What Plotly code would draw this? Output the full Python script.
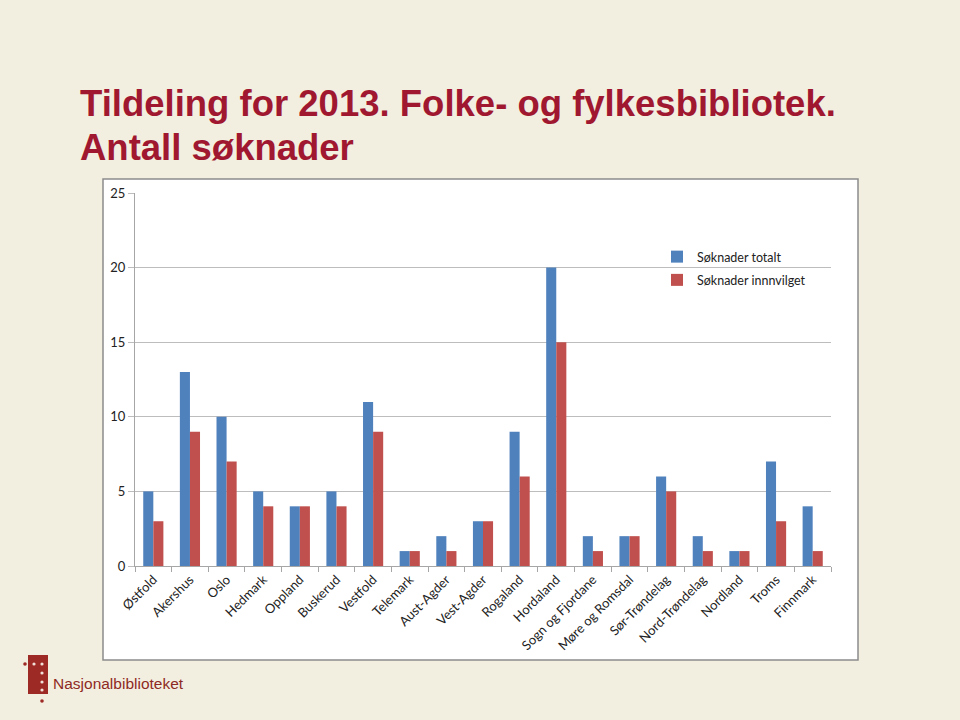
import plotly.graph_objects as go

categories = ["Østfold", "Akershus", "Oslo", "Hedmark", "Oppland", "Buskerud", "Vestfold",
              "Telemark", "Aust-Agder", "Vest-Agder", "Rogaland", "Hordaland",
              "Sogn og Fjordane", "Møre og Romsdal", "Sør-Trøndelag", "Nord-Trøndelag",
              "Nordland", "Troms", "Finnmark"]
soknader_totalt = [5, 13, 10, 5, 4, 5, 11, 1, 2, 3, 9, 20, 2, 2, 6, 2, 1, 7, 4]
soknader_innvilget = [3, 9, 7, 4, 4, 4, 9, 1, 1, 3, 6, 15, 1, 2, 5, 1, 1, 3, 1]
y_ticks = [0, 5, 10, 15, 20, 25]

W, H = 960, 720
def px(x): return x / W
def py(y): return 1 - y / H

BLUE = "#4F81BD"
RED = "#C0504D"
TITLE_RED = "#A01830"
TXT_FONT = "Lato, 'Open Sans', sans-serif"
TITLE_FONT = "'Liberation Sans', Arial, sans-serif"

fig = go.Figure()
fig.add_trace(go.Bar(x=categories, y=soknader_totalt, name="Søknader totalt",
                     marker=dict(color=BLUE, line=dict(width=0)), legendgroup="a"))
fig.add_trace(go.Bar(x=categories, y=soknader_innvilget, name="Søknader innnvilget",
                     marker=dict(color=RED, line=dict(width=0)), legendgroup="b"))

shapes = [
    dict(type="rect", xref="paper", yref="paper", x0=px(103), x1=px(858), y0=py(660), y1=py(179),
         fillcolor="white", line=dict(color="#8C8C8C", width=1.5), layer="below"),
    dict(type="rect", xref="paper", yref="paper", x0=px(28), x1=px(48), y0=py(694), y1=py(655),
         fillcolor="#9E2A26", line=dict(width=0), layer="above"),
]
dots_white = [(34, 664), (42, 664), (42, 673), (42, 682), (42, 690)]
for (cx, cy) in dots_white:
    shapes.append(dict(type="circle", xref="paper", yref="paper",
                       x0=px(cx - 1.6), x1=px(cx + 1.6), y0=py(cy + 1.6), y1=py(cy - 1.6),
                       fillcolor="#F0E0D8", line=dict(width=0)))
for (cx, cy) in [(25, 664), (42, 701)]:
    shapes.append(dict(type="circle", xref="paper", yref="paper",
                       x0=px(cx - 1.8), x1=px(cx + 1.8), y0=py(cy + 1.8), y1=py(cy - 1.8),
                       fillcolor="#9E2A26", line=dict(width=0)))

annotations = [
    dict(text="<b>Tildeling for 2013. Folke- og fylkesbibliotek.</b>", xref="paper", yref="paper",
         x=px(78), y=py(126), xanchor="left", yanchor="bottom", showarrow=False,
         font=dict(family=TITLE_FONT, size=36.5, color=TITLE_RED)),
    dict(text="<b>Antall søknader</b>", xref="paper", yref="paper",
         x=px(78), y=py(170), xanchor="left", yanchor="bottom", showarrow=False,
         font=dict(family=TITLE_FONT, size=36.5, color=TITLE_RED)),
    dict(text="Nasjonalbiblioteket", xref="paper", yref="paper",
         x=px(51), y=py(683), xanchor="left", yanchor="middle", showarrow=False,
         font=dict(family=TITLE_FONT, size=15.5, color="#8E2A24")),
]

fig.update_layout(
    width=W, height=H,
    margin=dict(l=0, r=0, t=0, b=0, autoexpand=False),
    paper_bgcolor="#F3EFE0",
    plot_bgcolor="white",
    barmode="group",
    bargap=0.45,
    bargroupgap=0,
    showlegend=True,
    legend=dict(x=px(657), y=py(242), xanchor="left", yanchor="top",
                bgcolor="rgba(0,0,0,0)", font=dict(family=TXT_FONT, size=12.5, color="#222"),
                traceorder="grouped", tracegroupgap=4, itemwidth=30),
    xaxis=dict(domain=[px(135), px(831)], tickangle=-45, showgrid=False, automargin=False,
               showline=True, linecolor="#A6A6A6", linewidth=1,
               ticks="outside", tickson="boundaries", ticklen=5, tickcolor="#A6A6A6",
               tickfont=dict(family=TXT_FONT, size=13, color="#222")),
    yaxis=dict(domain=[py(566), py(193)], range=[0, 25], tickvals=y_ticks, automargin=False,
               showgrid=True, gridcolor="#BDBDBD", gridwidth=1,
               showline=True, linecolor="#A6A6A6", linewidth=1,
               ticks="outside", ticklen=6, tickcolor="#BDBDBD",
               zeroline=False,
               tickfont=dict(family=TXT_FONT, size=13, color="#222")),
    shapes=shapes,
    annotations=annotations,
)

fig.write_html("out.html")
